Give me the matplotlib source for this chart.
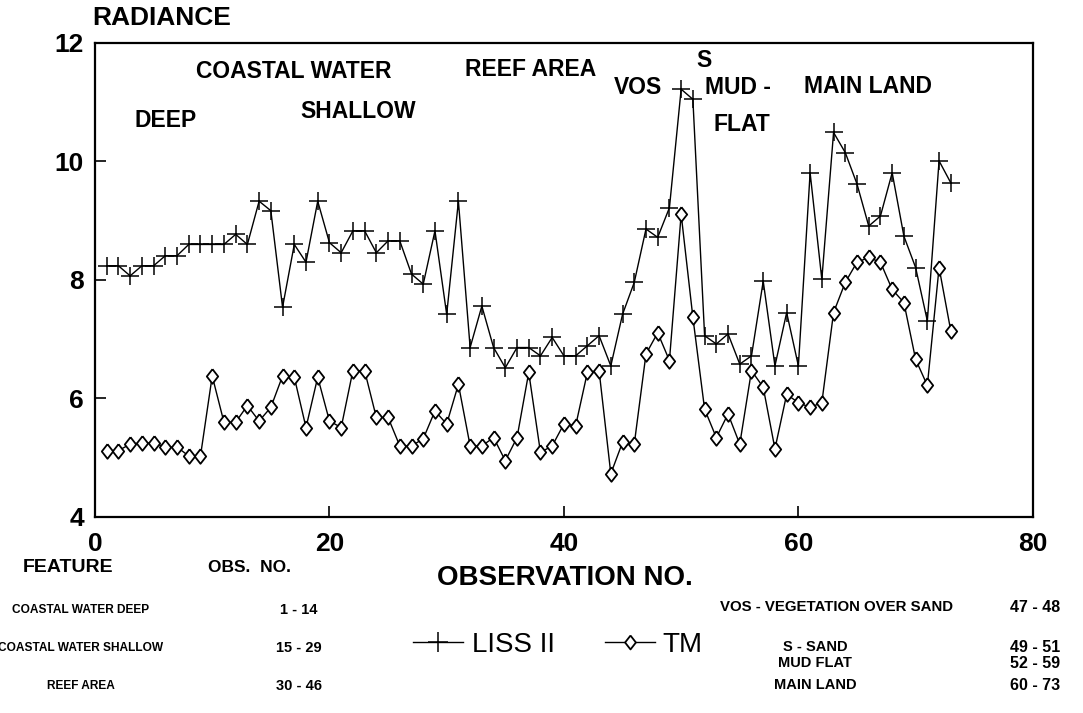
import numpy as np
import matplotlib.pyplot as plt
from matplotlib.lines import Line2D

plt.rcParams['font.family'] = ['Liberation Sans', 'DejaVu Sans']

# radiance readings, observations 1..73
obs = np.arange(1, 74)
liss = [8.24, 8.24, 8.07, 8.24, 8.24, 8.41, 8.41, 8.60, 8.60, 8.60,
        8.60, 8.77, 8.60, 9.33, 9.17, 7.54, 8.60, 8.30, 9.33, 8.63,
        8.46, 8.83, 8.83, 8.46, 8.66, 8.66, 8.10, 7.93, 8.83, 7.42,
        9.33, 6.86, 7.56, 6.86, 6.52, 6.86, 6.86, 6.72, 7.03, 6.72,
        6.72, 6.89, 7.06, 6.55, 7.42, 7.96, 8.86, 8.72, 9.22, 11.22,
        11.05, 7.06, 6.92, 7.09, 6.58, 6.72, 7.98, 6.55, 7.45, 6.55,
        9.81, 8.01, 10.49, 10.15, 9.62, 8.91, 9.08, 9.81, 8.74, 8.21,
        7.31, 10.01, 9.64]
tm = [5.12, 5.12, 5.23, 5.25, 5.25, 5.18, 5.18, 5.03, 5.03, 6.38,
      5.60, 5.60, 5.88, 5.62, 5.85, 6.38, 6.36, 5.51, 6.36, 5.62,
      5.51, 6.47, 6.47, 5.68, 5.68, 5.20, 5.20, 5.32, 5.79, 5.57,
      6.24, 5.20, 5.20, 5.34, 4.95, 5.34, 6.44, 5.09, 5.20, 5.57,
      5.54, 6.44, 6.47, 4.73, 5.26, 5.23, 6.75, 7.11, 6.64, 9.11,
      7.37, 5.82, 5.34, 5.74, 5.23, 6.47, 6.19, 5.15, 6.07, 5.93,
      5.85, 5.93, 7.45, 7.96, 8.30, 8.38, 8.30, 7.84, 7.62, 6.66,
      6.22, 8.21, 7.14]

xticks = [0, 20, 40, 60, 80]
yticks = [4, 6, 8, 10, 12]

# labels written inside the plot: (text, x, y)
zone_labels = [("COASTAL WATER", 8.6, 11.52), ("DEEP", 3.4, 10.7),
               ("SHALLOW", 17.5, 10.85), ("REEF AREA", 31.6, 11.55),
               ("S", 51.3, 11.7), ("VOS", 44.3, 11.25), ("MUD -", 52.0, 11.25),
               ("MAIN LAND", 60.5, 11.27), ("FLAT", 52.8, 10.62)]

left_feat = ["COASTAL WATER DEEP", "COASTAL WATER SHALLOW", "REEF AREA"]
left_obs = ["1 - 14", "15 - 29", "30 - 46"]
right_feat = ["VOS - VEGETATION OVER SAND", "S - SAND", "MUD FLAT", "MAIN LAND"]
right_obs = ["47 - 48", "49 - 51", "52 - 59", "60 - 73"]

diamond = [(0, 1), (0.78, 0), (0, -1), (-0.78, 0), (0, 1)]

fig = plt.figure(figsize=(10.83, 7.13), dpi=100)
ax = fig.add_axes([0.0877, 0.2749, 0.866, 0.6648])

ax.plot(obs, liss, color='black', lw=1.0, marker='+', ms=13, mew=1.1)
ax.plot(obs, tm, color='black', lw=1.0, marker=diamond, ms=10.5, mew=1.3,
        mfc='white', mec='black')

ax.set_xlim(0, 80)
ax.set_ylim(4, 12)
ax.set_xticks(xticks)
ax.set_yticks(yticks)
ax.tick_params(direction='in', length=8, width=1.2, labelsize=19, pad=8)
ax.tick_params(axis='x', pad=11)
for lab in ax.get_xticklabels() + ax.get_yticklabels():
    lab.set_fontweight('bold')
for s in ax.spines.values():
    s.set_linewidth(1.6)

for txt, x, y in zone_labels:
    ax.text(x, y, txt, fontsize=16.5, fontweight='bold', ha='left', va='center')

fig.text(92 / 1083, 1 - 18 / 713, "RADIANCE", fontsize=19, fontweight='bold',
         ha='left', va='center')
fig.text(565 / 1083, 1 - 578 / 713, "OBSERVATION NO.", fontsize=20,
         fontweight='bold', ha='center', va='center')

# feature table below the axis
fig.text(68 / 1083, 1 - 568 / 713, "FEATURE", fontsize=14, fontweight='bold',
         ha='center', va='center')
fig.text(249 / 1083, 1 - 567 / 713, "OBS.  NO.", fontsize=12.5, fontweight='bold',
         ha='center', va='center')
for i, (f, o) in enumerate(zip(left_feat, left_obs)):
    y = 1 - (610 + 38 * i) / 713
    fig.text(81 / 1083, y, f, fontsize=8.6, fontweight='bold', ha='center', va='center')
    fig.text(299 / 1083, y, o, fontsize=10.5, fontweight='bold', ha='center', va='center')
right_y = [607, 647, 663, 685]
for f, o, py in zip(right_feat, right_obs, right_y):
    big = f.startswith("VOS")
    fig.text((836 if big else 815) / 1083, 1 - py / 713, f,
             fontsize=10.8 if big else 10.5, fontweight='bold', ha='center', va='center')
    fig.text(1035 / 1083, 1 - py / 713, o, fontsize=11.5, fontweight='bold',
             ha='center', va='center')

handles = [Line2D([], [], color='black', lw=1.0, marker='+', ms=15, mew=1.1),
           Line2D([], [], color='black', lw=1.0, marker=diamond, ms=10, mew=1.3,
                  mfc='white', mec='black')]
fig.legend(handles, ["LISS II", "TM"], loc='center', ncol=2, frameon=False,
           bbox_to_anchor=(558 / 1083, 1 - 645 / 713), fontsize=20,
           handlelength=1.8, handletextpad=0.3, columnspacing=1.8)

fig.savefig("out.png", dpi=100, facecolor='white')
